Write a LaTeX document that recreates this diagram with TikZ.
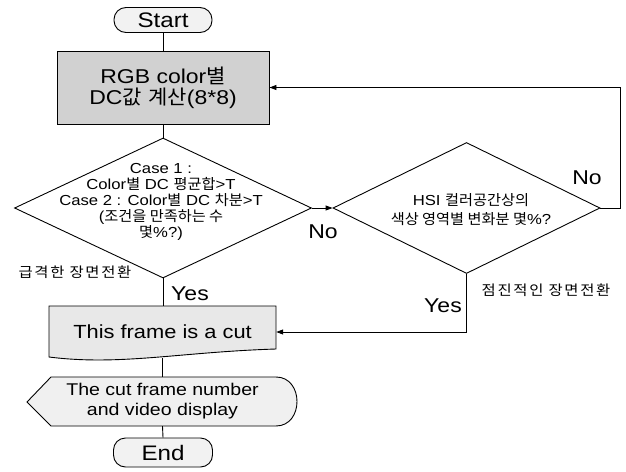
\documentclass[tikz,border=0pt]{standalone}
\usepackage{fontspec}
\setmainfont[FakeStretch=1.15]{Liberation Sans}
\newfontfamily\krfont[FakeStretch=1.05]{Noto Sans CJK KR}
\newfontfamily\krsmall[FakeStretch=1.1,LetterSpace=12]{Noto Sans CJK KR}
\newcommand{\hk}[1]{{\krfont #1}}
\usetikzlibrary{shapes.geometric,arrows.meta}
\begin{document}
\begin{tikzpicture}[x=1pt,y=-1pt,
  line/.style={draw=black,line width=0.9pt},
  arr/.style={line,-{Triangle[length=7pt,width=5pt]}},
  term/.style={draw,line width=0.9pt,rectangle,rounded corners=12pt,fill=black!5,inner sep=0pt,font=\fontsize{21}{24}\selectfont},
  proc/.style={draw,line width=0.9pt,rectangle,fill=black!18,inner sep=0pt,align=center,font=\fontsize{20}{21}\selectfont},
  dec/.style={draw,line width=0.9pt,diamond,inner sep=0pt,fill=white},
  dtext/.style={align=center,inner sep=0pt,font=\fontsize{14.5}{16}\selectfont},
  lbl/.style={inner sep=0pt,font=\fontsize{20}{22}\selectfont},
  klbl/.style={inner sep=0pt,font=\fontsize{14}{16}\krsmall},
]
\useasboundingbox[fill=white] (0,0) rectangle (626,471);

% terminators and process
\node[term, minimum width=98pt, minimum height=25pt] (start) at (163,20) {Start};
\node[proc, minimum width=212pt, minimum height=73pt] (rgb) at (163,87.5) {RGB color\hk{별}\\DC\hk{값} \hk{계산}(8*8)};

% decisions
\node[dec, minimum width=297pt, minimum height=140pt] (d1) at (163,208) {};
\node[dtext] (d1t) at (161,202) {Case 1 :\\Color\hk{별} DC \hk{평균합}>T\\Case 2 : Color\hk{별} DC \hk{차분}>T\\(\hk{조건을 만족하는 수}\\\hk{몇}\%?)};
\node[dec, minimum width=267pt, minimum height=131pt] (d2) at (466.5,208) {};
\node[dtext, font=\fontsize{14.5}{19}\selectfont] (d2t) at (471,209.5) {HSI \hk{컬러공간상의}\\\hk{색상 영역별 변화분 몇}\%?};

% document shape
\path[line, fill=black!9] (49,306) -- (276,306) -- (276,349)
  .. controls (180,352) and (120,366) .. (49,357) -- cycle;
\node[inner sep=0pt, minimum width=227pt, minimum height=52pt, font=\fontsize{19}{22}\selectfont] (cut) at (162.5,332) {This frame is a cut};

% display shape
\path[line, fill=black!6] (27,402) -- (51,377) -- (276,377)
  .. controls (304,377) and (304,426) .. (276,426) -- (51,426) -- cycle;
\node[inner sep=0pt, minimum width=270pt, minimum height=49pt, align=center, font=\fontsize{17}{20}\selectfont] (disp) at (162.5,401.5) {The cut frame number\\and video display};

\node[term, minimum width=99pt, minimum height=29pt] (end) at (163,452.5) {End};

% connectors
\draw[line] (start) -- (rgb);
\draw[line] (rgb) -- (d1);
\draw[arr] (d1.east) -- (d2.west);
\draw[arr] (d2.east) -- ++(20,0) |- (rgb.east);
\draw[line] (d1.south) -- (d1.south |- cut.north);
\draw[arr] (d2.south) |- (cut.east);
\draw[line] (cut.south) -- (cut.south |- disp.north);
\draw[line] (disp.south) -- (end.north);

% labels
\node[lbl] (no1) at (323,232) {No};
\node[lbl] (no2) at (587,178) {No};
\node[lbl] (yes1) at (190,294) {Yes};
\node[lbl] (yes2) at (443,306) {Yes};
\node[klbl] (k1) at (75,272) {급격한 장면전환};
\node[klbl] (k2) at (546,290) {점진적인 장면전환};
\end{tikzpicture}
\end{document}
